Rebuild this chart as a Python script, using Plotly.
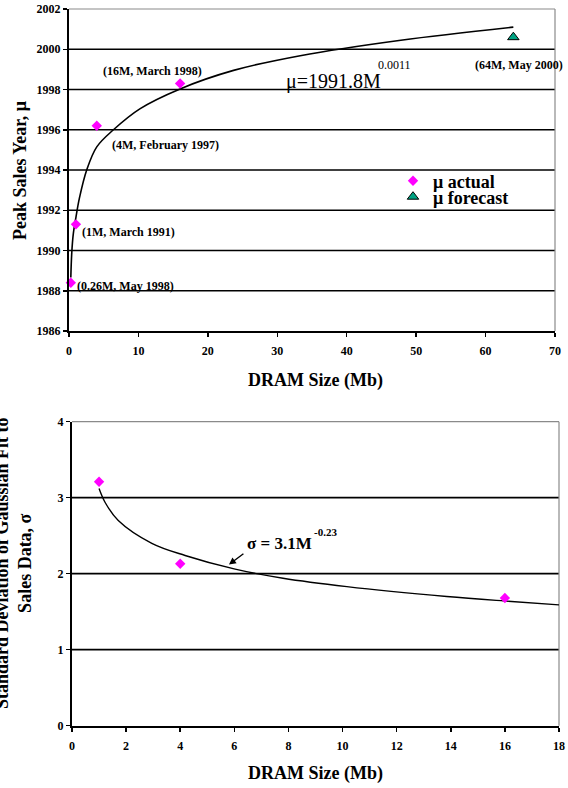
import plotly.graph_objects as go

FONT = "Liberation Serif, Times New Roman, Times, serif"

# ---------------- top chart data (peak sales year) ----------------
M_ACTUAL = [0.26, 1, 4, 16]
MU_ACTUAL = [1988.4, 1991.3, 1996.2, 1998.3]
ACTUAL_LABELS = ["(0.26M, May 1998)", "(1M, March 1991)", "(4M, February 1997)", "(16M, March 1998)"]

M_FORECAST = [64]
MU_FORECAST = [2000.6]
FORECAST_LABELS = ["(64M, May 2000)"]

# trend curve
MU_FIT_M = [0.26, 0.4, 0.62, 1.0, 1.5, 2.55, 4.0, 6.4, 10.2, 16, 23.7, 33.3, 47.8, 64]
MU_FIT = [1988.66, 1989.9, 1990.83, 1991.65, 1992.6, 1994.0, 1995.15, 1996.0,
          1997.04, 1998.03, 1998.95, 1999.68, 2000.45, 2001.1]

MU_X_TICKS = [0, 10, 20, 30, 40, 50, 60, 70]
MU_Y_TICKS = [1986, 1988, 1990, 1992, 1994, 1996, 1998, 2000, 2002]

# ---------------- bottom chart data (standard deviation) ----------------
M_SIGMA = [1, 4, 16]
SIGMA = [3.21, 2.13, 1.68]

SIGMA_FIT_M = [1, 1.22, 1.71, 2.95, 4.18, 6.03, 7.8, 10.16, 13.85, 16, 18]
SIGMA_FIT = [3.12, 2.94, 2.70, 2.40, 2.24, 2.06, 1.94, 1.83, 1.70, 1.64, 1.59]

SIGMA_X_TICKS = [0, 2, 4, 6, 8, 10, 12, 14, 16, 18]
SIGMA_Y_TICKS = [0, 1, 2, 3, 4]

# ---------------- styling ----------------
W, H = 568, 788
MAGENTA = "#FF00FF"
TEAL = "#00A383"


def px_x(p):
    return p / W


def px_y(p):
    return 1 - p / H


fig = go.Figure()

# top chart traces
fig.add_trace(go.Scatter(x=MU_FIT_M, y=MU_FIT, mode="lines", line=dict(color="black", width=1.6, shape="spline"),
                         showlegend=False, xaxis="x", yaxis="y", hoverinfo="skip"))
fig.add_trace(go.Scatter(x=M_ACTUAL, y=MU_ACTUAL, mode="markers", name="μ actual",
                         marker=dict(symbol="diamond", size=8, color=MAGENTA),
                         xaxis="x", yaxis="y", legend="legend", cliponaxis=False))
fig.add_trace(go.Scatter(x=M_FORECAST, y=MU_FORECAST, mode="markers", name="μ forecast",
                         marker=dict(symbol="triangle-up", size=10, color=TEAL, line=dict(color="black", width=1)),
                         xaxis="x", yaxis="y", legend="legend2"))

# bottom chart traces
fig.add_trace(go.Scatter(x=SIGMA_FIT_M, y=SIGMA_FIT, mode="lines", line=dict(color="black", width=1.4, shape="spline"),
                         showlegend=False, xaxis="x2", yaxis="y2", hoverinfo="skip"))
fig.add_trace(go.Scatter(x=M_SIGMA, y=SIGMA, mode="markers", showlegend=False,
                         marker=dict(symbol="diamond", size=8, color=MAGENTA),
                         xaxis="x2", yaxis="y2"))

tickfont = dict(family=FONT, size=12, color="black", weight="bold")
axis_common = dict(showgrid=False, zeroline=False, showline=True, linecolor="black", linewidth=2,
                   ticks="outside", ticklen=4, tickwidth=1.5, tickcolor="black", tickfont=tickfont,
                   automargin=False, fixedrange=True)

shapes = []
# gridlines at interior tick values + gray frame (top/right)
for yref, xref, ticks in (("y", "x", MU_Y_TICKS), ("y2", "x2", SIGMA_Y_TICKS)):
    for v in ticks[1:-1]:
        shapes.append(dict(type="line", xref=f"{xref} domain", x0=0, x1=1, yref=yref, y0=v, y1=v,
                           line=dict(color="black", width=1.7), layer="below"))
    shapes.append(dict(type="line", xref=f"{xref} domain", x0=0, x1=1, yref=f"{yref} domain", y0=1, y1=1,
                       line=dict(color="#8a8a8a", width=1.2), layer="below"))
    shapes.append(dict(type="line", xref=f"{xref} domain", x0=1, x1=1, yref=f"{yref} domain", y0=0, y1=1,
                       line=dict(color="#8a8a8a", width=1.2), layer="below"))

annotations = []
# point labels (offsets in pixels)
LABEL_STYLE = [
    dict(xanchor="left", xshift=4, yshift=-3),
    dict(xanchor="left", xshift=4, yshift=-8),
    dict(xanchor="left", xshift=13, yshift=-19),
    dict(xanchor="center", xshift=-28, yshift=12),
]
for xv, yv, txt, st in zip(M_ACTUAL, MU_ACTUAL, ACTUAL_LABELS, LABEL_STYLE):
    annotations.append(dict(x=xv, y=yv, xref="x", yref="y", text=txt, showarrow=False,
                            yanchor="middle", font=dict(family=FONT, size=12, color="black", weight="bold"), **st))
for xv, yv, txt in zip(M_FORECAST, MU_FORECAST, FORECAST_LABELS):
    annotations.append(dict(x=xv, y=yv, xref="x", yref="y", text=txt, showarrow=False,
                            xanchor="center", yanchor="middle", xshift=6, yshift=-28,
                            font=dict(family=FONT, size=12, color="black", weight="bold")))

# equations
annotations += [
    dict(x=px_x(284), y=px_y(81), xref="paper", yref="paper", text="μ=1991.8M", showarrow=False,
         xanchor="left", yanchor="middle", font=dict(family=FONT, size=20, color="black")),
    dict(x=px_x(376), y=px_y(65), xref="paper", yref="paper", text="0.0011", showarrow=False,
         xanchor="left", yanchor="middle", font=dict(family=FONT, size=12, color="black")),
    dict(x=px_x(245), y=px_y(543), xref="paper", yref="paper", text="σ = 3.1M", showarrow=False,
         xanchor="left", yanchor="middle", font=dict(family=FONT, size=17, color="black", weight="bold")),
    dict(x=px_x(312), y=px_y(532), xref="paper", yref="paper", text="-0.23", showarrow=False,
         xanchor="left", yanchor="middle", font=dict(family=FONT, size=11, color="black", weight="bold")),
    dict(x=5.8, y=2.12, xref="x2", yref="y2", text="", showarrow=True, ax=16, ay=-12,
         arrowhead=2, arrowsize=1, arrowwidth=1.4, arrowcolor="black"),
]

# axis titles
title_font = dict(family=FONT, size=18, color="black", weight="bold")
annotations += [
    dict(x=px_x(20), y=px_y(171), xref="paper", yref="paper", text="Peak Sales Year, μ", textangle=-90,
         showarrow=False, xanchor="center", yanchor="middle", font=title_font),
    dict(x=px_x(315), y=px_y(380), xref="paper", yref="paper", text="DRAM Size (Mb)",
         showarrow=False, xanchor="center", yanchor="middle", font=title_font),
    dict(x=px_x(13), y=px_y(563), xref="paper", yref="paper",
         text="Standard Deviation of Gaussian Fit to<br>Sales Data, σ", textangle=-90,
         showarrow=False, xanchor="center", yanchor="middle", font=title_font),
    dict(x=px_x(315), y=px_y(773), xref="paper", yref="paper", text="DRAM Size (Mb)",
         showarrow=False, xanchor="center", yanchor="middle", font=title_font),
]

legend_font = dict(family=FONT, size=18, color="black", weight="bold")
fig.update_layout(
    width=W, height=H,
    margin=dict(l=0, r=0, t=0, b=0),
    paper_bgcolor="white", plot_bgcolor="white",
    font=dict(family=FONT),
    xaxis=dict(domain=[px_x(69), px_x(555)], range=[MU_X_TICKS[0], MU_X_TICKS[-1]], tickvals=MU_X_TICKS,
               anchor="y", ticklabelstandoff=4, **axis_common),
    yaxis=dict(domain=[px_y(331), px_y(9)], range=[MU_Y_TICKS[0], MU_Y_TICKS[-1]], tickvals=MU_Y_TICKS,
               tickformat="d", anchor="x", **axis_common),
    xaxis2=dict(domain=[px_x(72), px_x(559)], range=[SIGMA_X_TICKS[0], SIGMA_X_TICKS[-1]], tickvals=SIGMA_X_TICKS,
                anchor="y2", ticklabelstandoff=4, **axis_common),
    yaxis2=dict(domain=[px_y(725.7), px_y(421.7)], range=[SIGMA_Y_TICKS[0], SIGMA_Y_TICKS[-1]],
                tickvals=SIGMA_Y_TICKS, anchor="x2", **axis_common),
    shapes=shapes,
    annotations=annotations,
    legend=dict(x=px_x(393), y=px_y(181), xanchor="left", yanchor="middle", font=legend_font,
                bgcolor="rgba(0,0,0,0)", borderwidth=0, itemwidth=30),
    legend2=dict(x=px_x(393), y=px_y(197), xanchor="left", yanchor="middle", font=legend_font,
                 bgcolor="rgba(0,0,0,0)", borderwidth=0, itemwidth=30),
)

fig.write_html("out.html", config={"displayModeBar": False, "staticPlot": True},
               post_script="document.body.style.margin='0';document.body.style.overflow='hidden';")
